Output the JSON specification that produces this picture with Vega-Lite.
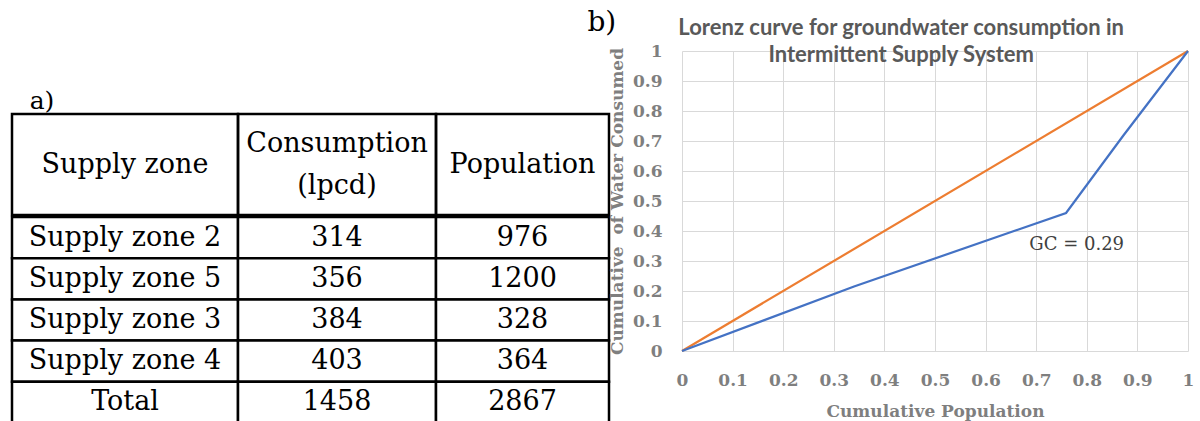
{
  "$schema": "https://vega.github.io/schema/vega-lite/v6.json",
  "background": "white",
  "padding": {"left": 10, "top": 9, "right": 0, "bottom": 0},
  "datasets": {
    "table": [
      {"zone": "Supply zone 2", "consumption": "314", "population": "976"},
      {"zone": "Supply zone 5", "consumption": "356", "population": "1200"},
      {"zone": "Supply zone 3", "consumption": "384", "population": "328"},
      {"zone": "Supply zone 4", "consumption": "403", "population": "364"},
      {"zone": "Total", "consumption": "1458", "population": "2867"}
    ],
    "lorenz": [
      {"series": "Equality", "x": 0, "y": 0},
      {"series": "Equality", "x": 1, "y": 1},
      {"series": "Lorenz", "x": 0, "y": 0},
      {"series": "Lorenz", "x": 0.34, "y": 0.215},
      {"series": "Lorenz", "x": 0.759, "y": 0.46},
      {"series": "Lorenz", "x": 0.873, "y": 0.72},
      {"series": "Lorenz", "x": 1, "y": 1}
    ]
  },
  "spacing": -24,
  "hconcat": [
    {
      "spacing": -2.5,
      "vconcat": [
        {"width": 60, "height": 61, "data": {"values": [{"t": "a)"}]},
         "mark": {"type": "text", "font": "DejaVu Serif", "fontSize": 25, "dy": 19, "color": "black"},
         "encoding": {"text": {"field": "t", "type": "nominal"}}},
        {
          "spacing": 0,
          "bounds": "flush",
          "hconcat": [
            {"width": 226, "height": 101, "data": {"values": [{"h": "Supply zone"}]}, "view": {"stroke": "black", "strokeWidth": 2.5},
             "mark": {"type": "text", "font": "DejaVu Serif", "fontSize": 27, "color": "black"},
             "encoding": {"text": {"field": "h", "type": "nominal"}}},
            {"width": 198, "height": 101, "data": {"values": [{"h": "Consumption\n(lpcd)"}]}, "view": {"stroke": "black", "strokeWidth": 2.5},
             "mark": {"type": "text", "font": "DejaVu Serif", "fontSize": 27, "lineBreak": "\n", "lineHeight": 42, "dy": -21, "color": "black"},
             "encoding": {"text": {"field": "h", "type": "nominal"}}},
            {"width": 173, "height": 101, "data": {"values": [{"h": "Population"}]}, "view": {"stroke": "black", "strokeWidth": 2.5},
             "mark": {"type": "text", "font": "DejaVu Serif", "fontSize": 27, "color": "black"},
             "encoding": {"text": {"field": "h", "type": "nominal"}}}
          ]
        },
        {
          "spacing": 0,
          "bounds": "flush",
          "hconcat": [
            {"width": 226, "height": 206, "data": {"name": "table"},
             "encoding": {"y": {"field": "zone", "type": "nominal", "sort": null, "axis": null, "scale": {"paddingInner": 0, "paddingOuter": 0}}},
             "layer": [
               {"mark": {"type": "rect", "fill": "white", "stroke": "black", "strokeWidth": 2.5}},
               {"mark": {"type": "text", "font": "DejaVu Serif", "fontSize": 27, "color": "black"}, "encoding": {"text": {"field": "zone", "type": "nominal"}}}
             ]},
            {"width": 198, "height": 206, "data": {"name": "table"},
             "encoding": {"y": {"field": "zone", "type": "nominal", "sort": null, "axis": null, "scale": {"paddingInner": 0, "paddingOuter": 0}}},
             "layer": [
               {"mark": {"type": "rect", "fill": "white", "stroke": "black", "strokeWidth": 2.5}},
               {"mark": {"type": "text", "font": "DejaVu Serif", "fontSize": 27, "color": "black"}, "encoding": {"text": {"field": "consumption", "type": "nominal"}}}
             ]},
            {"width": 173, "height": 206, "data": {"name": "table"},
             "encoding": {"y": {"field": "zone", "type": "nominal", "sort": null, "axis": null, "scale": {"paddingInner": 0, "paddingOuter": 0}}},
             "layer": [
               {"mark": {"type": "rect", "fill": "white", "stroke": "black", "strokeWidth": 2.5}},
               {"mark": {"type": "text", "font": "DejaVu Serif", "fontSize": 27, "color": "black"}, "encoding": {"text": {"field": "population", "type": "nominal"}}}
             ]}
          ]
        }
      ]
    },
    {
      "title": {"text": "b)", "orient": "top", "anchor": "start", "frame": "bounds", "dx": -21, "offset": -20, "font": "DejaVu Serif", "fontSize": 28, "fontWeight": "normal", "color": "black"},
      "vconcat": [
        {
          "width": 506,
          "height": 300,
          "title": {"text": ["Lorenz curve for groundwater consumption in", "Intermittent Supply System"], "font": "Lato", "fontSize": 22, "fontWeight": "bold", "color": "#595959", "lineHeight": 27, "anchor": "middle", "frame": "bounds", "offset": -25},
          "data": {"name": "lorenz"},
          "encoding": {
            "x": {"field": "x", "type": "quantitative", "scale": {"domain": [0, 1], "nice": false},
                  "axis": {"title": "Cumulative Population", "values": [0, 0.1, 0.2, 0.3, 0.4, 0.5, 0.6, 0.7, 0.8, 0.9, 1], "format": "~g", "grid": true, "gridColor": "#d9d9d9", "domain": false, "ticks": false, "labelFlush": false, "labelOverlap": false,
                           "labelFont": "DejaVu Serif", "labelFontWeight": "bold", "labelFontSize": 17, "labelColor": "#7f7f7f", "labelPadding": 21,
                           "titleFont": "DejaVu Serif", "titleFontWeight": "bold", "titleFontSize": 17, "titleColor": "#7f7f7f", "titlePadding": 15}},
            "y": {"field": "y", "type": "quantitative", "scale": {"domain": [0, 1], "nice": false},
                  "axis": {"title": "Cumulative\u00a0 of Water Consumed", "values": [0, 0.1, 0.2, 0.3, 0.4, 0.5, 0.6, 0.7, 0.8, 0.9, 1], "format": "~g", "grid": true, "gridColor": "#d9d9d9", "domain": false, "ticks": false, "labelFlush": false, "labelOverlap": false,
                           "labelFont": "DejaVu Serif", "labelFontWeight": "bold", "labelFontSize": 17, "labelColor": "#7f7f7f", "labelPadding": 20,
                           "titleFont": "DejaVu Serif", "titleFontWeight": "bold", "titleFontSize": 17, "titleColor": "#7f7f7f", "titlePadding": 6}}
          },
          "layer": [
            {
              "mark": {"type": "line", "strokeWidth": 2.2},
              "encoding": {
                "color": {"field": "series", "type": "nominal", "scale": {"domain": ["Equality", "Lorenz"], "range": ["#ED7D31", "#4472C4"]}, "legend": null}
              }
            },
            {
              "data": {"values": [{"label": "GC = 0.29", "x": 0.78, "y": 0.353}]},
              "mark": {"type": "text", "font": "DejaVu Serif", "fontSize": 18, "color": "#404040"},
              "encoding": {
                "text": {"field": "label", "type": "nominal"}
              }
            }
          ]
        }
      ]
    }
  ],
  "config": {"view": {"stroke": null}}
}
